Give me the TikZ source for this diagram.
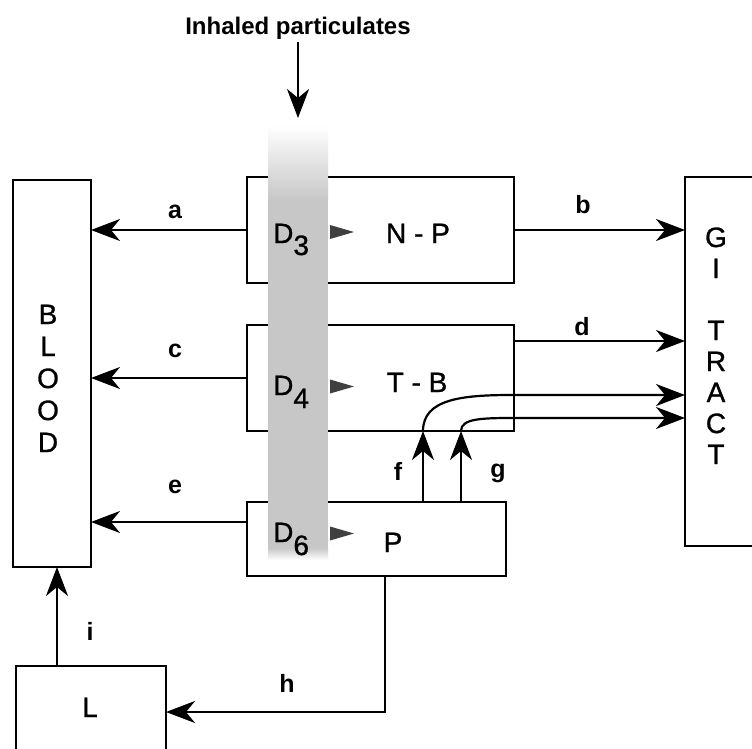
\documentclass[tikz,border=0pt]{standalone}
\usepackage{fontspec}
\setmainfont{Liberation Sans}
\usetikzlibrary{arrows.meta}
\begin{document}
\begin{tikzpicture}[x=1pt,y=-1pt,
  box/.style={draw, line width=2pt, inner sep=0pt, outer sep=0pt},
  arr/.style={line width=2.2pt, -{Stealth[length=29pt,width=22pt,inset=9pt]}},
  boxtext/.style={font=\fontsize{28}{32}\selectfont\addfontfeature{FakeBold=1}, inner sep=0pt, anchor=base},
  lbl/.style={font=\fontsize{25}{30}\selectfont\bfseries, inner sep=0pt, anchor=base},
  tri/.style={fill=black!75}
]
\clip (0,0) rectangle (752,749);
\fill[white] (0,0) rectangle (752,749);

% boxes
\node[box, minimum width=267pt, minimum height=106pt] (NP) at (380.5,230) {};
\node[box, minimum width=267pt, minimum height=106pt] (TB) at (380.5,378) {};
\node[box, minimum width=259pt, minimum height=74pt] (P) at (376.5,539) {};
\node[box, minimum width=78pt, minimum height=387pt] (BLOOD) at (52,373.5) {};
\node[box, minimum width=90pt, minimum height=369pt] (GI) at (730,361.5) {};
\node[box, minimum width=150pt, minimum height=108pt] (L) at (91,720) {};

% stippled band
\shade[top color=white, bottom color=black!22] (268,125) rectangle (328,200);
\fill[black!22] (268,200) rectangle (328,548);
\shade[top color=black!22, bottom color=white] (268,548) rectangle (328,560);

% title and inflow arrow
\node[font=\fontsize{24}{28}\selectfont\bfseries, inner sep=0pt, anchor=base] (title) at (298,35) {Inhaled particulates};
\coordinate (inS) at (298,42);
\coordinate (inE) at (298,118);
\draw[arr] (inS) -- (inE);

% box texts
\node[boxtext] (tNP) at (418,243) {N - P};
\node[boxtext] (tTB) at (417,392) {T - B};
\node[boxtext] (tP) at (393,552) {P};
\node[boxtext] (tL) at (90,717) {L};
\node[boxtext, anchor=base west] (d3) at (273,243) {D\raisebox{-12pt}{3}};
\node[boxtext, anchor=base west] (d4) at (273,395) {D\raisebox{-13pt}{4}};
\node[boxtext, anchor=base west] (d6) at (273,542) {D\raisebox{-13pt}{6}};
\fill[tri] (330,225) -- (354,232) -- (330,239) -- cycle;
\fill[tri] (330,379.5) -- (354,386.5) -- (330,393.5) -- cycle;
\fill[tri] (330,526.5) -- (354,533.5) -- (330,540.5) -- cycle;

% BLOOD letters
\foreach \c [count=\i from 0] in {B,L,O,O,D}
  \node[boxtext] (bl\i) at (48,324+32*\i) {\c};
% GI TRACT letters
\node[boxtext] (gi0) at (716,247) {G};
\node[boxtext] (gi1) at (716,278) {I};
\foreach \c [count=\i from 0] in {T,R,A,C,T}
  \node[boxtext] (gt\i) at (716,340+31*\i) {\c};

% connectors
\draw[arr] (NP.west) -- (NP.west -| BLOOD.east);
\draw[arr] (NP.east) -- (NP.east -| GI.west);
\draw[arr] (TB.west) -- (TB.west -| BLOOD.east);
\coordinate (dS) at ([yshift=37pt]TB.east);
\draw[arr] (dS) -- (dS -| GI.west);
\coordinate (eS) at ([yshift=17pt]P.west);
\draw[arr] (eS) -- (eS -| BLOOD.east);

\coordinate (fS) at ([xshift=46.5pt]P.north);
\coordinate (fE) at (fS |- TB.south);
\draw[arr] (fS) -- (fE);
\coordinate (fM) at (512,395);
\draw[arr] (fE) .. controls +(0,-32) and +(-50,0) .. (fM) -- (fM -| GI.west);

\coordinate (gS) at ([xshift=84.5pt]P.north);
\coordinate (gE) at (gS |- TB.south);
\draw[arr] (gS) -- (gE);
\coordinate (gM) at (518,418);
\draw[arr] (gE) .. controls +(0,-13) and +(-35,0) .. (gM) -- (gM -| GI.west);

\coordinate (hS) at ([xshift=8.5pt]P.south);
\coordinate (hT) at ([yshift=8pt]L.east);
\draw[arr] (hS) |- (hT);

\coordinate (iS) at ([xshift=-34pt]L.north);
\draw[arr] (iS) -- (iS |- BLOOD.south);

% labels
\node[lbl] (la) at (175,218) {a};
\node[lbl] (lb) at (583,213) {b};
\node[lbl] (lc) at (175,357) {c};
\node[lbl] (ld) at (582,335) {d};
\node[lbl] (le) at (175,493) {e};
\node[lbl] (lf) at (398,480) {f};
\node[lbl] (lg) at (498,477) {g};
\node[lbl] (lh) at (287,692) {h};
\node[lbl] (li) at (90,640) {i};
\end{tikzpicture}
\end{document}
